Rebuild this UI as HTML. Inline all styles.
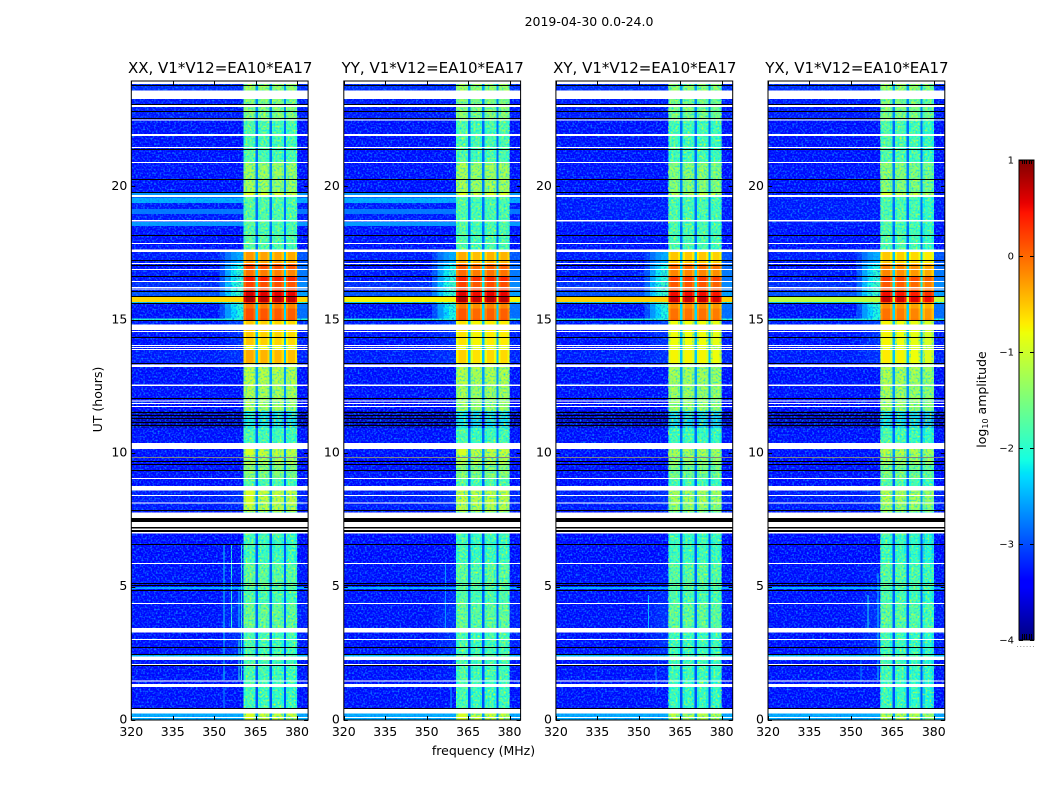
<!DOCTYPE html>
<html lang="en">
<head>
<meta charset="utf-8">
<title>2019-04-30 0.0-24.0</title>
<style>
html,body{margin:0;padding:0;background:#fff;}
body{width:1050px;height:800px;overflow:hidden;}
svg{display:block;}
text{font-family:"DejaVu Sans","Liberation Sans",sans-serif;fill:#000;}
.title{font-size:15px;text-anchor:middle;}
.tick{font-size:12.5px;}
</style>
</head>
<body>
<svg id="chart" xmlns="http://www.w3.org/2000/svg" width="1050" height="800" viewBox="0 0 1050 800">
<defs>
<filter id="speckle" x="0" y="0" width="100%" height="100%" color-interpolation-filters="sRGB">
<feTurbulence type="fractalNoise" baseFrequency="0.55" numOctaves="1" seed="7"/>
<feColorMatrix type="matrix" values="0 0 0 0 0.05  0 0 0 0 0.5  0 0 0 0 1  3 0 0 0 -1.35"/>
</filter>
<filter id="speckle-warm" x="0" y="0" width="100%" height="100%" color-interpolation-filters="sRGB">
<feTurbulence type="fractalNoise" baseFrequency="0.5" numOctaves="1" seed="3"/>
<feColorMatrix type="matrix" values="0 0 0 0 0.85  0 0 0 0 1  0 0 0 0 0.1  2.4 0 0 0 -1.05"/>
</filter>
<filter id="speckle-cool" x="0" y="0" width="100%" height="100%" color-interpolation-filters="sRGB">
<feTurbulence type="fractalNoise" baseFrequency="0.5" numOctaves="1" seed="11"/>
<feColorMatrix type="matrix" values="0 0 0 0 0  0 0 0 0 0.85  0 0 0 0 1  2.4 0 0 0 -1.1"/>
</filter>
</defs>
<text x="589" y="26" style="font-size:12.5px;text-anchor:middle">2019-04-30 0.0-24.0</text>
<text class="tick" x="0" y="0" transform="translate(102,399.5) rotate(-90)" text-anchor="middle">UT (hours)</text>
<text class="tick" x="483.5" y="755" text-anchor="middle">frequency (MHz)</text>
<text class="tick" x="0" y="0" transform="translate(986,399.5) rotate(-90)" text-anchor="middle">log<tspan font-size="8" dy="2">10</tspan><tspan dy="-2"> amplitude</tspan></text>
<g id="panels"></g>
<g id="cbar"></g>
</svg>
<script>
// ---------- categories ----------
const panelNames = ['XX', 'YY', 'XY', 'YX'];
const panelBaseline = 'V1*V12=EA10*EA17';
const xTicks = [320, 335, 350, 365, 380];
const yTicks = [0, 5, 10, 15, 20];
const cbarTicks = [1, 0, -1, -2, -3, -4];
const cbarTickLabels = ['1', '0', '\u22121', '\u22122', '\u22123', '\u22124'];
const cbarEndTicks = [0.04, 0.1, 0.16, 0.22, 0.28];

// ---------- frequency segments (MHz) ----------
const freqEdges = [320, 352, 354, 356, 358, 360.7, 361.5, 364.2, 365, 365.9, 366.7, 369.3, 370.1, 371, 371.8, 374.4, 375.2, 376, 376.8, 379.2, 380, 384];
const freqKinds = ['bg', 'sh0', 'sh1', 'sh2', 'sh3', 'e0', 'b0', 'e0', 'gap', 'e1', 'b1', 'e1', 'gap', 'e2', 'b2', 'e2', 'gap', 'e3', 'b3', 'e3', 'right'];
const shoulderWeights = [0.25, 0.6, 0.85, 1];
const rightWeight = 0.4;
const bandEdgeDrop = 0.2;

// ---------- time rows: start hour and log10 amplitude per row ----------
const rowStart = [0, 0.41, 1.45, 2.38, 2.48, 3.46, 4.39, 4.92, 5.0, 5.9, 7.0, 7.81, 8.07, 8.79, 9.09, 9.58, 9.95, 10.41, 10.97, 11.6, 12.1, 12.6, 13.41, 13.9, 14.08, 14.86, 15.02, 15.08, 15.45, 15.62, 15.7, 15.89, 16.11, 16.22, 16.49, 16.68, 16.94, 17.16, 17.65, 18.55, 18.7, 19.0, 19.19, 19.42, 19.6, 19.68, 19.83, 20.92, 22.5, 23.64];
const rowBackground = [-2.5, -3.35, -3.35, -2.4, -3.35, -3.35, -3.35, -2.5, -3.35, -3.4, -3.4, -3.3, -3.3, -3.4, -3.35, -3.4, -3.35, -3.35, -3.75, -3.4, -3.35, -3.35, -3.3, -3.35, -3.35, -3.3, -2, -3.35, -3.35, -2.4, -0.7, -3, -3.3, -3.2, -3.35, -3.3, -3.35, -3.3, -3.35, -2.6, -3.3, -2.8, -3.3, -2.5, -2.9, -2.6, -3.35, -3.35, -3.3, -3.2];
const rowShoulder = [-2.5, -3.35, -3.3, -2.4, -3.2, -3.2, -3.25, -2.5, -3.3, -3.4, -3.4, -3.25, -3.2, -3.4, -3.35, -3.4, -3.35, -3.35, -3.75, -3.4, -3.35, -3.35, -3.2, -3.3, -3.2, -3.1, -2, -2.1, -2, -1.8, -0.7, -1.9, -1.9, -1.9, -2, -2, -2.1, -2.5, -3.35, -2.6, -3.3, -2.8, -3.3, -2.5, -2.9, -2.6, -3.35, -3.35, -3.3, -3.2];
const rowGap = [-2.6, -3, -2.95, -2.6, -2.95, -2.9, -2.9, -2.6, -2.9, -2.95, -2.95, -2.7, -2.6, -2.9, -2.8, -2.7, -2.6, -2.85, -3.3, -2.7, -2.65, -2.6, -2.4, -2.5, -2.45, -2.4, -2.3, -2.3, -2.35, -2.2, -1, -2.2, -2.2, -2.2, -2.2, -2.3, -2.3, -2.4, -2.85, -2.75, -2.85, -2.85, -2.85, -2.8, -2.8, -2.5, -2.75, -2.85, -2.7, -2.6];
const bandXX = [-1, -1.95, -1.9, -1.7, -1.9, -1.65, -1.85, -1.75, -1.7, -1.95, -1.9, -1.1, -1, -1.85, -1.45, -1.15, -1, -1.9, -2.3, -1.25, -1.2, -1.1, -0.4, -0.85, -0.55, -0.55, 0.15, 0.1, -0.1, 0.25, 0.75, 0.6, 0.3, 0.15, 0.4, -0.1, 0.15, -0.3, -1.8, -1.8, -1.8, -1.8, -1.8, -1.8, -1.8, -0.95, -1.3, -1.85, -1.45, -1.3];
const bandYY = [-1, -1.95, -1.9, -1.7, -1.9, -1.7, -1.85, -1.75, -1.75, -1.95, -1.9, -1.15, -1.05, -1.85, -1.45, -1.15, -1, -1.9, -2.35, -1.3, -1.25, -1.15, -0.6, -0.9, -0.7, -0.7, 0.1, 0.05, -0.15, 0.2, 0.75, 0.55, 0.3, 0.15, 0.35, -0.05, 0.05, -0.4, -1.85, -1.85, -1.85, -1.85, -1.85, -1.85, -1.85, -0.95, -1.25, -1.85, -1.45, -1.3];
const bandXY = [-1.1, -2, -1.95, -1.8, -1.95, -1.7, -1.85, -1.75, -1.75, -1.95, -2, -1.4, -1.25, -1.9, -1.55, -1.3, -1.2, -1.95, -2.4, -1.35, -1.3, -1.25, -0.75, -0.95, -0.8, -0.8, 0, -0.05, -0.2, 0.1, 0.7, 0.5, 0.2, 0.1, 0.25, -0.15, 0, -0.5, -1.85, -1.85, -1.85, -1.85, -1.85, -1.85, -1.85, -1.05, -1.45, -1.9, -1.55, -1.4];
const bandYX = [-1.15, -2.05, -2, -1.8, -2, -1.8, -1.95, -1.85, -1.85, -2.05, -2, -1.4, -1.25, -1.9, -1.6, -1.3, -1.15, -1.95, -2.4, -1.35, -1.3, -1.25, -0.8, -0.95, -0.85, -0.85, -0.1, -0.15, -0.3, 0, 0.6, 0.4, 0.1, 0, 0.15, -0.25, -0.2, -0.6, -1.9, -1.9, -1.9, -1.9, -1.9, -1.9, -1.9, -1.05, -1.5, -1.9, -1.55, -1.4];
const bandShapeXX = [0.05, 0, -0.02, -0.05];
const bandShapeYY = [0.05, -0.05, 0, 0];
const bandShapeXY = [0, 0, 0, -0.05];
const bandShapeYX = [0.1, 0.05, 0, -0.1];

// ---------- per-polarisation overrides ----------
const stripRow = 30;
const stripLevels = [-0.6, -0.75, -0.55, -1.1];
const crossQuietRows = [39, 41, 43, 44, 45];
const crossQuietLevel = -3.3;

// ---------- narrowband interference ----------
const spikePanel = [0, 0, 0, 0, 0, 0, 1, 1, 2, 2, 3, 3, 3];
const spikeFreq = [353.4, 356, 358.8, 358.8, 359.7, 353.4, 356.6, 358.6, 353.4, 356, 356, 359.6, 353.4];
const spikeFrom = [1.5, 3.4, 1.5, 3.5, 1.5, 0.4, 3.4, 0.4, 3.4, 1.0, 3.4, 1.5, 1.4];
const spikeTo = [6.6, 6.6, 3.0, 5.0, 6.6, 1.2, 5.9, 1.3, 4.7, 2.0, 4.7, 5.5, 2.4];
const spikeLevel = [-2.2, -2.0, -2.0, -2.2, -2.0, -2.6, -2.6, -2.5, -2.4, -2.6, -2.1, -2.3, -2.7];

// ---------- flagged (white) and dropped (black) time ranges, hours ----------
const whiteFrom = [23.88, 23.32, 23.03, 22.51, 21.93, 21.48, 20.92, 19.64, 18.72, 17.88, 17.58, 17.13, 16.9, 16.45, 16.2, 16.15, 14.65, 14.57, 14.05, 13.97, 13.9, 13.25, 12.54, 11.97, 11.87, 11.76, 10.17, 9.85, 9.05, 8.61, 8.41, 8.13, 7.59, 7.24, 7.14, 7.01, 5.86, 4.36, 3.28, 3.0, 2.25, 2.07, 1.45, 1.23, 0.25, 0.08];
const whiteTo = [24, 23.64, 23.1, 22.55, 22.01, 21.52, 20.96, 19.71, 18.78, 17.92, 17.67, 17.16, 16.94, 16.49, 16.26, 16.17, 14.86, 14.61, 14.08, 14.01, 13.93, 13.36, 12.6, 12.0, 11.91, 11.79, 10.41, 9.88, 9.09, 8.79, 8.45, 8.17, 7.79, 7.44, 7.19, 7.06, 5.9, 4.39, 3.46, 3.04, 2.38, 2.1, 1.48, 1.35, 0.41, 0.11];
const blackLines = [23.85, 23.14, 22.87, 22.61, 21.45, 20.32, 19.83, 19.72, 18.22, 17.63, 17.28, 17.09, 16.68, 16.5, 16.11, 15.92, 15.66, 15.02, 14.38, 13.41, 12.09, 11.57, 11.46, 11.34, 11.19, 11.08, 9.88, 9.73, 9.61, 9.39, 7.89, 6.61, 5.15, 5.07, 4.88, 3.46, 2.74, 2.48, 2.07, 0.45];
const blackFrom = [7.44, 7.19, 7.06];
const blackTo = [7.59, 7.24, 7.14];

// ---------- axis functions ----------
const panelLeft = [131.3, 343.8, 555.9, 768];
const panelWidth = 176.8, plotTop = 81, plotBottom = 720;
const freqMin = 320, freqMax = 384, hourMax = 23.95;
const bandLow = 360.7, bandHigh = 380;
const cbarLeft = 1019, cbarWidth = 15, cbarTop = 160, cbarBottom = 640;
const levelMin = -4, levelMax = 1;
const smoothAbove = -1.0;
function xScale(panel, mhz) { return panelLeft[panel] + (mhz - freqMin) / (freqMax - freqMin) * panelWidth; }
function yScale(hour) { return plotBottom - hour / hourMax * (plotBottom - plotTop); }
function markY(hour) { return Math.max(plotTop, yScale(hour * 0.998)); }
function cbarScale(level) { return cbarBottom - (level - levelMin) / (levelMax - levelMin) * (cbarBottom - cbarTop); }

// matplotlib jet colour map
function jet(level) {
  const t = Math.min(1, Math.max(0, (level - levelMin) / (levelMax - levelMin)));
  const ch = (pts) => {
    for (let i = 1; i < pts.length; i++) {
      if (t <= pts[i][0]) {
        const a = pts[i - 1], b = pts[i];
        return a[1] + (b[1] - a[1]) * (t - a[0]) / (b[0] - a[0]);
      }
    }
    return pts[pts.length - 1][1];
  };
  const r = ch([[0, 0], [0.35, 0], [0.66, 1], [0.89, 1], [1, 0.5]]);
  const g = ch([[0, 0], [0.125, 0], [0.375, 1], [0.64, 1], [0.91, 0], [1, 0]]);
  const b = ch([[0, 0.5], [0.11, 1], [0.34, 1], [0.65, 0], [1, 0]]);
  return 'rgb(' + Math.round(r * 255) + ',' + Math.round(g * 255) + ',' + Math.round(b * 255) + ')';
}

const NS = 'http://www.w3.org/2000/svg';
function mk(tag, attrs, parent) {
  const el = document.createElementNS(NS, tag);
  for (const k in attrs) el.setAttribute(k, attrs[k]);
  parent.appendChild(el);
  return el;
}

const bandSeries = [bandXX, bandYY, bandXY, bandYX];
const bandShapes = [bandShapeXX, bandShapeYY, bandShapeXY, bandShapeYX];
const panelsRoot = document.getElementById('panels');

function cellLevel(p, r, kind) {
  let bg = rowBackground[r], sh = rowShoulder[r];
  if (r === stripRow) { bg = stripLevels[p]; sh = stripLevels[p]; }
  if (p >= 2 && crossQuietRows.indexOf(r) >= 0) { bg = crossQuietLevel; sh = crossQuietLevel; }
  if (kind === 'bg') return bg;
  if (kind === 'gap') return rowGap[r];
  if (kind === 'right') return bg + rightWeight * (sh - bg);
  if (kind.slice(0, 2) === 'sh') return bg + shoulderWeights[+kind[2]] * (sh - bg);
  const band = bandSeries[p][r] + bandShapes[p][+kind[1]];
  return kind[0] === 'e' ? band - bandEdgeDrop : band;
}

// pass: 'faint' = off-band cells, 'band' = noisy band cells,
//       'gap' = channel gaps, 'bright' = smooth cells
function drawCells(p, g, pass) {
  for (let r = 0; r < rowStart.length; r++) {
    const h0 = rowStart[r];
    const h1 = r + 1 < rowStart.length ? rowStart[r + 1] : 24;
    for (let c = 0; c < freqKinds.length; c++) {
      const kind = freqKinds[c];
      const lev = cellLevel(p, r, kind);
      const isBand = kind[0] === 'e' || (kind[0] === 'b' && kind !== 'bg');
      let which = isBand ? 'band' : (kind === 'gap' ? 'gap' : 'faint');
      if (lev > smoothAbove || r === stripRow) which = 'bright';
      if (which !== pass) continue;
      const x0 = xScale(p, freqEdges[c]), x1 = xScale(p, freqEdges[c + 1]);
      const cell = mk('rect', {
        x: x0, y: markY(h1), width: x1 - x0, height: markY(h0) - markY(h1),
        fill: jet(lev), 'shape-rendering': 'crispEdges'
      }, g);
      
      
    }
  }
}

panelNames.forEach(function (name, p) {
  const g = mk('g', {}, panelsRoot);
  
  

  // off-band heatmap cells
  drawCells(p, g, 'faint');

  // interference spikes
  spikeFreq.forEach(function (f, i) {
    if (spikePanel[i] !== p) return;
    const s = mk('rect', {
      x: xScale(p, f), y: markY(spikeTo[i]), width: 1,
      height: markY(spikeFrom[i]) - markY(spikeTo[i]),
      fill: jet(spikeLevel[i]), 'shape-rendering': 'crispEdges'
    }, g);
    
    
  });

  // background speckle
  const sp = mk('rect', {
    x: panelLeft[p], y: plotTop, width: panelWidth, height: plotBottom - plotTop,
    filter: 'url(#speckle)'
  }, g);
  
  

  // band cells with their own speckle
  drawCells(p, g, 'band');
  const bx = xScale(p, bandLow), bw = xScale(p, bandHigh) - bx;
  const warm = mk('rect', { x: bx, y: plotTop, width: bw, height: plotBottom - plotTop, filter: 'url(#speckle-warm)' }, g);
  
  
  const cool = mk('rect', { x: bx, y: plotTop, width: bw, height: plotBottom - plotTop, filter: 'url(#speckle-cool)' }, g);
  
  

  // channel gaps and bright cells stay smooth
  drawCells(p, g, 'gap');
  drawCells(p, g, 'bright');

  // dropped / flagged time ranges
  blackLines.forEach(function (h) {
    const l = mk('rect', {
      x: panelLeft[p], y: Math.round(markY(h)), width: panelWidth, height: 1,
      fill: '#000', 'shape-rendering': 'crispEdges'
    }, g);
    
    
  });
  blackFrom.forEach(function (h, i) {
    const l = mk('rect', {
      x: panelLeft[p], y: markY(blackTo[i]), width: panelWidth,
      height: markY(h) - markY(blackTo[i]),
      fill: '#000', 'shape-rendering': 'crispEdges'
    }, g);
    
    
  });
  whiteFrom.forEach(function (h, i) {
    const l = mk('rect', {
      x: panelLeft[p], y: markY(whiteTo[i]), width: panelWidth,
      height: markY(h) - markY(whiteTo[i]),
      fill: '#fff', 'shape-rendering': 'crispEdges'
    }, g);
    
    
  });

  // frame
  const frame = mk('rect', {
    x: panelLeft[p], y: plotTop, width: panelWidth, height: plotBottom - plotTop,
    fill: 'none', stroke: '#000', 'stroke-width': 1
  }, g);
  
  

  // x ticks
  xTicks.forEach(function (v) {
    const x = Math.round(xScale(p, v)) + 0.5;
    const t1 = mk('line', { x1: x, x2: x, y1: plotBottom, y2: plotBottom - 4, stroke: '#000' }, g);
    
    
    const t2 = mk('line', { x1: x, x2: x, y1: plotTop, y2: plotTop + 4, stroke: '#000' }, g);
    
    
    const lab = mk('text', { x: xScale(p, v), y: 736, 'text-anchor': 'middle', class: 'tick' }, g);
    lab.textContent = v;
    
    
  });

  // y ticks
  yTicks.forEach(function (v) {
    const y = Math.round(yScale(v)) + 0.5;
    const t1 = mk('line', { x1: panelLeft[p], x2: panelLeft[p] + 4, y1: y, y2: y, stroke: '#000' }, g);
    
    
    const t2 = mk('line', { x1: panelLeft[p] + panelWidth, x2: panelLeft[p] + panelWidth - 4, y1: y, y2: y, stroke: '#000' }, g);
    
    
    const lab = mk('text', { x: panelLeft[p] - 4, y: yScale(v) + 3.5, 'text-anchor': 'end', class: 'tick' }, g);
    lab.textContent = v;
    
    
  });

  // title
  const title = mk('text', { x: panelLeft[p] + panelWidth / 2 + 0.5, y: 73, class: 'title' }, g);
  title.textContent = name + ', ' + panelBaseline;
  
  
});

// ---------- colour bar ----------
const cbarRoot = document.getElementById('cbar');
for (let py = cbarTop; py < cbarBottom; py++) {
  const lev = levelMax - (py + 0.5 - cbarTop) / (cbarBottom - cbarTop) * (levelMax - levelMin);
  const s = mk('rect', { x: cbarLeft, y: py, width: cbarWidth, height: 1, fill: jet(lev), 'shape-rendering': 'crispEdges' }, cbarRoot);
  
  
}
const cbarFrame = mk('rect', { x: cbarLeft, y: cbarTop, width: cbarWidth, height: cbarBottom - cbarTop, fill: 'none', stroke: '#000' }, cbarRoot);


cbarTicks.forEach(function (v, i) {
  const y = Math.round(cbarScale(v)) + 0.5;
  const t1 = mk('line', { x1: cbarLeft, x2: cbarLeft + 4, y1: y, y2: y, stroke: '#000' }, cbarRoot);
  
  
  const t2 = mk('line', { x1: cbarLeft + cbarWidth, x2: cbarLeft + cbarWidth - 4, y1: y, y2: y, stroke: '#000' }, cbarRoot);
  
  
  const lab = mk('text', { x: cbarLeft - 5, y: cbarScale(v) + 3.5, 'text-anchor': 'end', style: 'font-size:10px' }, cbarRoot);
  lab.textContent = cbarTickLabels[i];
  
  
});
cbarEndTicks.forEach(function (f) {
  const x = Math.round(cbarLeft + 1 + f * 3 * (cbarWidth - 2)) + 0.5;
  const a = mk('line', { x1: x, x2: x, y1: cbarTop, y2: cbarTop + 4, stroke: '#000' }, cbarRoot);
  
  
  const b = mk('line', { x1: x, x2: x, y1: cbarBottom, y2: cbarBottom - 6, stroke: '#000' }, cbarRoot);
  
  
});
const dots = mk('line', { x1: 1017, x2: 1035, y1: 646.5, y2: 646.5, stroke: '#999', 'stroke-dasharray': '1 2.2' }, cbarRoot);


</script>
</body>
</html>
